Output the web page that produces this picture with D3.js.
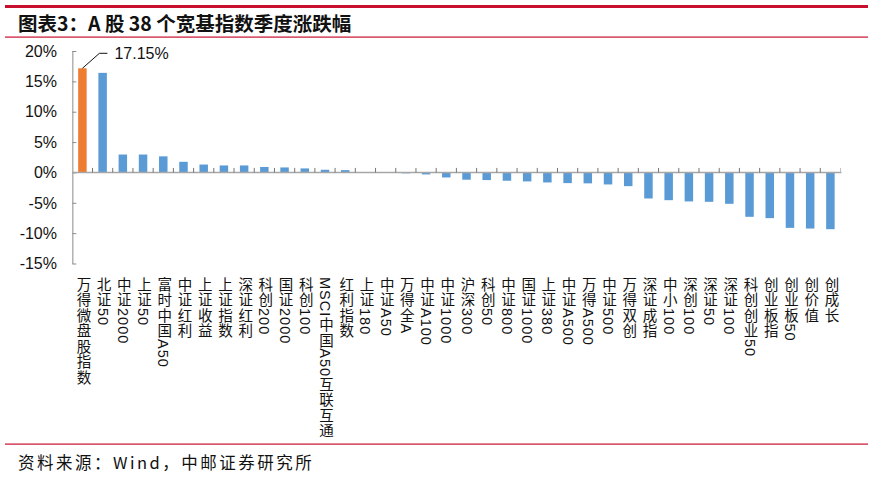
<!DOCTYPE html>
<html><head><meta charset="utf-8">
<script src="https://cdn.jsdelivr.net/npm/d3@7"></script>
<style>
body{margin:0;background:#fff;}
svg{display:block;}
</style></head>
<body>
<svg id="c" width="873" height="479"></svg>
<script>
const categories = ["万得微盘股指数","北证50","中证2000","上证50","富时中国A50","中证红利","上证收益","上证指数","深证红利","科创200","国证2000","科创100","MSCI中国A50互联互通","红利指数","上证180","中证A50","万得全A","中证A100","中证1000","沪深300","科创50","中证800","国证1000","上证380","中证A500","万得A500","中证500","万得双创","深证成指","中小100","深创100","深证50","深证100","科创创业50","创业板指","创业板50","创价值","创成长"];
const values = [17.15,16.4,2.95,2.95,2.65,1.75,1.3,1.15,1.15,0.9,0.82,0.66,0.44,0.38,0.06,-0.06,-0.15,-0.33,-0.83,-1.2,-1.26,-1.37,-1.48,-1.65,-1.76,-1.8,-1.98,-2.26,-4.29,-4.57,-4.78,-4.84,-5.17,-7.31,-7.53,-9.13,-9.24,-9.35];
const yTicks = [20,15,10,5,0,-5,-10,-15];
const highlightLabel = "17.15%";
const title = "图表3：A 股 38 个宽基指数季度涨跌幅";
const source = "资料来源：Wind，中邮证券研究所";

const svg = d3.select("#c");
const red = "#c8102e";

// header/footer rules
svg.append("rect").attr("x",5).attr("y",5).attr("width",863).attr("height",3).attr("fill",red);
svg.append("rect").attr("x",5).attr("y",36.5).attr("width",863).attr("height",1.2).attr("fill",red);
svg.append("rect").attr("x",5).attr("y",443.5).attr("width",863).attr("height",1.2).attr("fill",red);

svg.append("text").attr("x",18).attr("y",31)
  .attr("font-family","'Noto Sans CJK SC'").attr("font-weight","bold").attr("font-size",19.5)
  .attr("fill","#111").text(title);
svg.append("text").attr("x",18).attr("y",469)
  .attr("font-family","'Noto Sans CJK SC'").attr("font-size",16.5).attr("letter-spacing",2.5)
  .attr("fill","#111").text(source);

const x = d3.scaleBand().domain(categories).range([72.3, 840.5]).padding(0);
const y = d3.scaleLinear().domain([-15,20]).range([263.5, 51]);
const bw = x.bandwidth()*0.42;

// bars
svg.append("g").selectAll("rect").data(values).join("rect")
  .attr("x",(d,i)=>x(categories[i])+x.bandwidth()/2-bw/2)
  .attr("y",d=>y(Math.max(0,d)))
  .attr("width",bw)
  .attr("height",d=>Math.abs(y(d)-y(0)))
  .attr("fill",(d,i)=>i===0?"#ed7d31":"#5b9bd5");

// y axis
const yAxis = svg.append("g").attr("transform","translate(72.3,0)")
  .call(d3.axisRight(y).tickValues(yTicks).tickSize(4).tickFormat(""));
yAxis.select(".domain").attr("stroke","#a6a6a6").attr("stroke-width",1.3).attr("d",`M0.5,${y(20)}V${y(-15)+0.5}`);
yAxis.selectAll(".tick line").attr("stroke","#8c8c8c");
svg.append("g").selectAll("text").data(yTicks).join("text")
  .attr("x",57).attr("y",d=>y(d)).attr("dy","0.36em").attr("text-anchor","end")
  .attr("font-family","'Liberation Sans',Arial").attr("font-size",16).attr("fill","#111")
  .text(d=>d+"%");

// x axis line with boundary ticks
const bounds = categories.map(c=>x(c)).concat([x.range()[1]]);
svg.append("line").attr("x1",72.3).attr("x2",x.range()[1]+1).attr("y1",y(0)).attr("y2",y(0))
  .attr("stroke","#a6a6a6").attr("stroke-width",1.5);
svg.append("g").selectAll("line").data(bounds.slice(1)).join("line")
  .attr("x1",d=>d).attr("x2",d=>d).attr("y1",y(0)).attr("y2",y(0)-4.5)
  .attr("stroke",(d,i)=>i===bounds.length-2?"#bbb":"#666").attr("stroke-width",0.9);

// category labels (vertical)
svg.append("g").selectAll("text").data(categories).join("text")
  .attr("x",d=>x(d)+x.bandwidth()/2).attr("y",277)
  .attr("style","writing-mode:vertical-rl;text-orientation:mixed;")
  .attr("font-family","'Liberation Sans','Noto Sans CJK SC'").attr("font-size",14.5).attr("letter-spacing",1)
  .attr("fill","#111").text(d=>d);

// annotation
const ax = x(categories[0])+x.bandwidth()/2, ay = y(values[0]);
svg.append("path").attr("d",`M${ax},${ay}L${ax+17},${ay-15}H${ax+25}`)
  .attr("fill","none").attr("stroke","#111").attr("stroke-width",1);
svg.append("text").attr("x",ax+32).attr("y",ay-15).attr("dy","0.36em")
  .attr("font-family","'Liberation Sans',Arial").attr("font-size",16).attr("fill","#111").text(highlightLabel);
</script>
</body></html>
